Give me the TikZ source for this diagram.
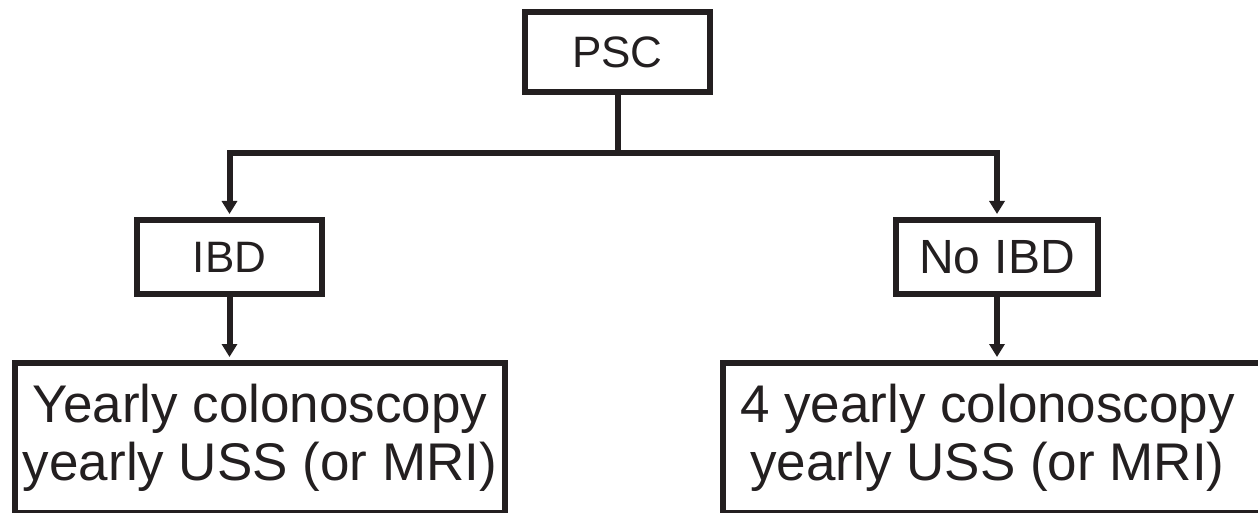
\documentclass[tikz,border=0pt]{standalone}
\usepackage{fontspec}
\setmainfont{Liberation Sans}
\usetikzlibrary{arrows.meta}
\definecolor{ink}{RGB}{35,31,32}
\tikzset{
  box/.style={draw=ink, line width=6pt, text=ink, inner sep=0pt, align=center},
  topbox/.style={box, font=\fontsize{44}{50}\selectfont},
  botbox/.style={box, font=\fontsize{53}{58}\selectfont},
  conn/.style={draw=ink, line width=6pt},
  arr/.style={conn, -{Triangle[width=15pt,length=13pt]}, shorten >=3pt},
}
\begin{document}
\begin{tikzpicture}[x=1pt,y=-1pt]
\clip (0,0) rectangle (1258,513);
\fill[white] (0,0) rectangle (1258,513);
\node[topbox, minimum width=185pt, minimum height=80pt] (psc) at (617.5,52) {PSC};
\node[topbox, minimum width=185pt, minimum height=74pt] (ibd) at (229.5,257) {IBD};
\node[topbox, font=\fontsize{48}{50}\selectfont, minimum width=202pt, minimum height=74pt] (nibd) at (997,257) {No\hspace{0.3em}IBD};
\node[botbox, minimum width=490pt, minimum height=150pt] (left) at (260,438) {Yearly colonoscopy\\yearly USS (or MRI)};
\node[botbox, minimum width=539pt, minimum height=150pt] (right) at (992.5,438) {\hspace*{-10pt}4 yearly colonoscopy\\\hspace*{-10pt}yearly USS (or MRI)};
\coordinate (j) at (617.5,153);
\draw[conn] (psc.south) -- (j);
\draw[arr] (j) -| (ibd.north);
\draw[arr] (j) -| (nibd.north);
\draw[arr] (ibd.south) -- (ibd.south |- left.north);
\draw[arr] (nibd.south) -- (nibd.south |- right.north);
\end{tikzpicture}
\end{document}
